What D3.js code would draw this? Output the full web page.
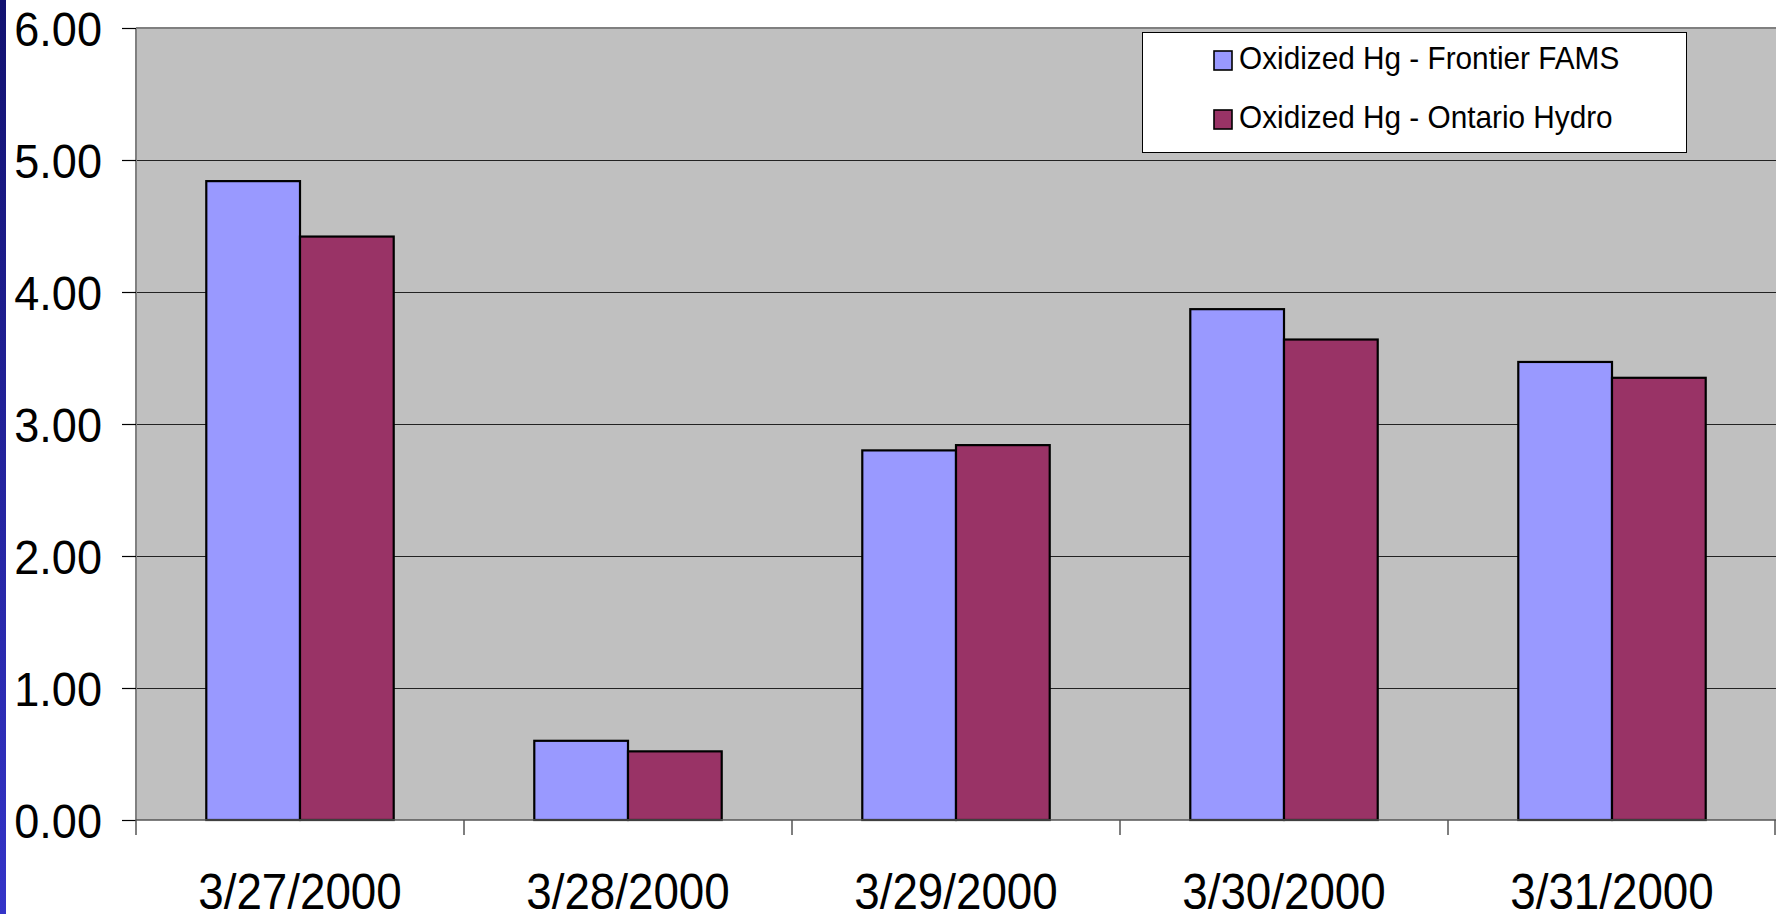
<!DOCTYPE html>
<html>
<head>
<meta charset="utf-8">
<script src="https://cdn.jsdelivr.net/npm/d3@7"></script>
<style>
  html, body { margin: 0; padding: 0; background: #ffffff; overflow: hidden; }
  svg { display: block; }
  text { font-family: "Liberation Sans", Arial, sans-serif; fill: #000; }
</style>
</head>
<body>
<svg id="chart" width="1776" height="914"></svg>
<script>
// Sampling dates and oxidized mercury results for the two methods
const categories = ["3/27/2000", "3/28/2000", "3/29/2000", "3/30/2000", "3/31/2000"];
const seriesNames = ["Oxidized Hg - Frontier FAMS", "Oxidized Hg - Ontario Hydro"];
const famsValues = [4.84, 0.60, 2.80, 3.87, 3.47];
const ontarioValues = [4.42, 0.52, 2.84, 3.64, 3.35];
const yTicks = [0, 1, 2, 3, 4, 5, 6];
const seriesColors = ["#9999ff", "#993366"];

const seriesValues = [famsValues, ontarioValues];
const rows = categories.map((c, i) => ({ category: c, values: seriesValues.map(v => v[i]) }));

const W = 1776, H = 914;
const plot = { left: 136, top: 28, right: 1776, bottom: 820 };
const textSqueeze = 0.92;

const svg = d3.select("#chart");

// Slide accent strip on the left edge
const defs = svg.append("defs");
const grad = defs.append("linearGradient").attr("id", "edgeGrad")
  .attr("x1", 0).attr("y1", 0).attr("x2", 0).attr("y2", 1);
grad.append("stop").attr("offset", "0%").attr("stop-color", "#121270");
grad.append("stop").attr("offset", "100%").attr("stop-color", "#3434c8");
svg.append("rect").attr("x", 0).attr("y", 0).attr("width", 6).attr("height", H)
  .attr("fill", "url(#edgeGrad)");

const x0 = d3.scaleBand().domain(categories).range([plot.left, plot.right]).padding(0);
const x1 = d3.scaleBand().domain(d3.range(seriesNames.length)).range([0, x0.bandwidth()])
  .paddingInner(0).paddingOuter(0.75);
const y = d3.scaleLinear().domain([0, 6]).range([plot.bottom, plot.top]);

// Plot background
svg.append("rect")
  .attr("x", plot.left).attr("y", plot.top)
  .attr("width", plot.right - plot.left).attr("height", plot.bottom - plot.top)
  .attr("fill", "#c0c0c0");

// Horizontal gridlines
svg.append("g").selectAll("line")
  .data(yTicks.filter(t => t > 0 && t < 6))
  .join("line")
  .attr("x1", plot.left).attr("x2", plot.right)
  .attr("y1", d => Math.round(y(d)) + 0.5).attr("y2", d => Math.round(y(d)) + 0.5)
  .attr("stroke", "#222").attr("stroke-width", 1);

// Plot frame (top and left edges)
svg.append("line").attr("x1", plot.left).attr("x2", plot.right)
  .attr("y1", plot.top).attr("y2", plot.top)
  .attr("stroke", "#808080").attr("stroke-width", 2);
svg.append("line").attr("x1", plot.left).attr("x2", plot.left)
  .attr("y1", plot.top).attr("y2", plot.bottom)
  .attr("stroke", "#808080").attr("stroke-width", 2);

// Bars
const groups = svg.append("g").selectAll("g")
  .data(rows)
  .join("g")
  .attr("transform", d => `translate(${x0(d.category)},0)`);
groups.selectAll("rect")
  .data(d => d.values.map((v, i) => ({ v, i })))
  .join("rect")
  .attr("x", d => x1(d.i))
  .attr("y", d => y(d.v))
  .attr("width", x1.bandwidth())
  .attr("height", d => y(0) - y(d.v))
  .attr("fill", d => seriesColors[d.i])
  .attr("stroke", "#000")
  .attr("stroke-width", 2.2);

// Y axis
const yAxis = svg.append("g")
  .attr("transform", `translate(${plot.left},0)`)
  .call(d3.axisLeft(y).tickValues(yTicks).tickSize(14).tickPadding(20).tickFormat(d3.format(".2f")));
yAxis.select(".domain").remove();
yAxis.selectAll(".tick line").attr("stroke", "#000").attr("stroke-width", 1.2);
yAxis.selectAll(".tick text")
  .attr("font-size", 49)
  .attr("font-family", "Liberation Sans, Arial, sans-serif")
  .attr("dy", "0.35em")
  .attr("transform", function () {
    const xPos = +d3.select(this).attr("x");
    return `translate(${xPos},0) scale(${textSqueeze},1) translate(${-xPos},0)`;
  });

// X axis baseline with ticks at category boundaries
svg.append("line").attr("x1", plot.left).attr("x2", plot.right)
  .attr("y1", plot.bottom).attr("y2", plot.bottom)
  .attr("stroke", "#555").attr("stroke-width", 1.5);
const boundaries = categories.map(c => x0(c)).concat([x0(categories[categories.length - 1]) + x0.bandwidth()]);
svg.append("g").selectAll("line")
  .data(boundaries)
  .join("line")
  .attr("x1", d => Math.min(d, W - 1)).attr("x2", d => Math.min(d, W - 1))
  .attr("y1", plot.bottom).attr("y2", plot.bottom + 15)
  .attr("stroke", "#555").attr("stroke-width", 1.5);

svg.append("g").selectAll("text")
  .data(categories)
  .join("text")
  .attr("text-anchor", "middle")
  .attr("font-size", 50)
  .attr("transform", d => `translate(${x0(d) + x0.bandwidth() / 2},909) scale(0.915,1)`)
  .text(d => d);

// Legend
const legend = svg.append("g");
legend.append("rect")
  .attr("x", 1142.5).attr("y", 32.5).attr("width", 544).attr("height", 120)
  .attr("fill", "#fff").attr("stroke", "#000").attr("stroke-width", 1);
const items = legend.selectAll("g.item")
  .data(seriesNames)
  .join("g").attr("class", "item")
  .attr("transform", (d, i) => `translate(1214,${60 + i * 59})`);
items.append("rect")
  .attr("x", 0).attr("y", -9).attr("width", 18).attr("height", 19)
  .attr("fill", (d, i) => seriesColors[i])
  .attr("stroke", "#000").attr("stroke-width", 1.6);
items.append("text")
  .attr("transform", `translate(25,-2) scale(0.93,1)`)
  .attr("dy", "0.34em")
  .attr("font-size", 32)
  .text(d => d);
</script>
</body>
</html>
